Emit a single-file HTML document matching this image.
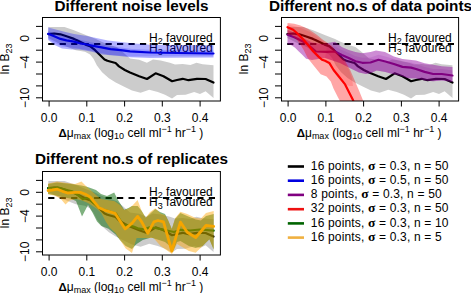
<!DOCTYPE html>
<html><head><meta charset="utf-8"><style>
html,body{margin:0;padding:0;background:#fff;}
svg{display:block;}
</style></head><body>
<svg width="471" height="293" viewBox="0 0 471 293" font-family="Liberation Sans, sans-serif" fill="#000">
<defs>
<clipPath id="c1"><rect x="42.5" y="17.5" width="177.9" height="83.5"/></clipPath>
<clipPath id="c2"><rect x="281.5" y="17.5" width="177.1" height="83.5"/></clipPath>
<clipPath id="c3"><rect x="42.5" y="171.5" width="177.9" height="83.5"/></clipPath>
</defs>
<rect width="471" height="293" fill="#fff"/>
<g clip-path="url(#c1)">
<polygon points="48.3,26.9 64.5,26.9 74.0,30.2 87.0,35.5 96.0,38.9 101.5,41.7 109.7,45.1 116.5,47.1 123.3,52.6 130.0,58.5 139.2,59.8 146.9,62.7 153.0,59.6 160.7,60.4 169.9,62.7 175.0,64.5 182.7,64.0 190.4,65.0 196.5,62.7 202.6,64.2 213.5,65.2 213.5,98.0 205.6,91.2 200.0,94.1 194.2,92.0 185.6,94.8 177.0,95.0 172.0,98.4 165.0,94.8 157.8,92.0 149.2,89.8 140.6,92.7 132.0,90.5 124.2,86.8 115.7,82.5 108.9,78.3 102.1,72.3 96.9,65.5 93.5,58.7 90.1,54.4 85.0,51.8 75.8,50.2 60.0,44.0 48.3,38.0" fill="#cccccc"/>
<polyline points="48.4,34.2 54.2,33.5 60.4,34.3 66.5,36.3 74.0,38.9 76.4,39.9 85.6,44.6 90.0,46.1 95.1,50.2 100.2,55.3 104.5,59.5 107.4,60.8 111.8,62.0 115.6,63.0 119.0,66.4 124.8,70.0 130.0,72.6 139.2,76.2 147.0,79.0 155.6,73.3 163.5,76.2 172.1,81.2 177.0,80.0 182.7,78.8 188.5,80.2 197.0,78.8 205.6,79.0 213.5,82.6" fill="none" stroke="#000" stroke-width="2.2" stroke-linejoin="round" stroke-linecap="round" />
<line x1="48.2" y1="44" x2="215" y2="44" stroke="#000" stroke-width="2" stroke-dasharray="6.2,5.27"/>
<text x="212.8" y="41.5" font-size="12" text-anchor="end">H<tspan font-size="9" dy="2.5">2</tspan><tspan dy="-2.5"> favoured</tspan></text>
<text x="212.8" y="52" font-size="12" text-anchor="end">H<tspan font-size="9" dy="2.5">3</tspan><tspan dy="-2.5"> favoured</tspan></text>
<polygon points="48.2,27.6 64.5,31.7 74.0,34.0 87.0,36.0 108.0,40.5 132.0,43.3 150.0,44.8 177.0,45.0 213.5,45.2 213.5,57.6 177.0,57.8 150.0,58.0 130.0,57.3 119.1,56.1 102.1,54.4 91.8,51.8 86.5,50.7 79.0,49.6 71.6,49.6 62.0,48.6 54.6,44.9 48.2,40.1" fill="#0000ff" fill-opacity="0.3"/>
<polygon points="48.2,31.0 60.0,35.5 74.0,38.5 90.0,42.0 110.0,46.0 132.0,49.0 150.0,49.8 177.0,50.0 213.5,50.5 213.5,56.3 177.0,56.3 132.0,56.5 110.0,55.0 90.0,50.5 75.0,48.0 62.0,46.5 54.6,43.0 48.2,39.0" fill="#0000ff" fill-opacity="0.18"/>
<polyline points="48.1,33.8 54.2,36.3 60.4,38.9 66.5,40.4 74.0,41.6 80.0,43.3 87.0,44.5 93.0,45.8 100.2,47.2 110.5,49.2 120.7,50.2 130.0,51.3 150.0,52.5 177.0,53.0 213.5,53.5" fill="none" stroke="#0000e0" stroke-width="2.2" stroke-linejoin="round" stroke-linecap="round" />
</g>
<rect x="42.5" y="17.5" width="177.9" height="83.5" fill="none" stroke="#000" stroke-width="1"/>
<line x1="49.1" y1="101.0" x2="49.1" y2="106.5" stroke="#000" stroke-width="1"/>
<text x="49.1" y="121.6" font-size="12" text-anchor="middle">0.0</text>
<line x1="86.8" y1="101.0" x2="86.8" y2="106.5" stroke="#000" stroke-width="1"/>
<text x="86.8" y="121.6" font-size="12" text-anchor="middle">0.1</text>
<line x1="124.6" y1="101.0" x2="124.6" y2="106.5" stroke="#000" stroke-width="1"/>
<text x="124.6" y="121.6" font-size="12" text-anchor="middle">0.2</text>
<line x1="162.3" y1="101.0" x2="162.3" y2="106.5" stroke="#000" stroke-width="1"/>
<text x="162.3" y="121.6" font-size="12" text-anchor="middle">0.3</text>
<line x1="200.1" y1="101.0" x2="200.1" y2="106.5" stroke="#000" stroke-width="1"/>
<text x="200.1" y="121.6" font-size="12" text-anchor="middle">0.4</text>
<line x1="36" y1="26.4" x2="42.5" y2="26.4" stroke="#000" stroke-width="1"/>
<line x1="36" y1="38.3" x2="42.5" y2="38.3" stroke="#000" stroke-width="1"/>
<line x1="36" y1="50.2" x2="42.5" y2="50.2" stroke="#000" stroke-width="1"/>
<line x1="36" y1="62.1" x2="42.5" y2="62.1" stroke="#000" stroke-width="1"/>
<line x1="36" y1="74.0" x2="42.5" y2="74.0" stroke="#000" stroke-width="1"/>
<line x1="36" y1="85.9" x2="42.5" y2="85.9" stroke="#000" stroke-width="1"/>
<line x1="36" y1="97.8" x2="42.5" y2="97.8" stroke="#000" stroke-width="1"/>
<text transform="translate(29,38.3) rotate(-90)" font-size="12" text-anchor="middle">0</text>
<text transform="translate(29,62.1) rotate(-90)" font-size="12" text-anchor="middle">−4</text>
<text transform="translate(29,97.8) rotate(-90)" font-size="12" text-anchor="middle">−10</text>
<text transform="translate(9,58.8) rotate(-90)" font-size="12" text-anchor="middle">ln B<tspan font-size="9" dy="2.5">23</tspan></text>
<text x="130.9" y="136.9" font-size="12" text-anchor="middle"><tspan font-size="11.5" font-weight="bold">Δ</tspan>μ<tspan font-size="9" dy="2">max</tspan><tspan dy="-2"> (log</tspan><tspan font-size="9" dy="2">10</tspan><tspan dy="-2"> cell ml</tspan><tspan font-size="9" dy="-4.5">−1</tspan><tspan dy="4.5"> hr</tspan><tspan font-size="9" dy="-4.5">−1</tspan><tspan dy="4.5"> )</tspan></text>
<text x="131.5" y="10.9" font-size="15.3" font-weight="bold" text-anchor="middle">Different noise levels</text>
<g clip-path="url(#c2)">
<polygon points="287.3,26.9 303.5,26.9 313.0,30.2 326.0,35.5 335.0,38.9 340.5,41.7 348.7,45.1 355.5,47.1 362.3,52.6 369.0,58.5 378.2,59.8 385.9,62.7 392.0,59.6 399.7,60.4 408.9,62.7 414.0,64.5 421.7,64.0 429.4,65.0 435.5,62.7 441.6,64.2 452.5,65.2 452.5,98.0 444.6,91.2 439.0,94.1 433.2,92.0 424.6,94.8 416.0,95.0 411.0,98.4 404.0,94.8 396.8,92.0 388.2,89.8 379.6,92.7 371.0,90.5 363.2,86.8 354.7,82.5 347.9,78.3 341.1,72.3 335.9,65.5 332.5,58.7 329.1,54.4 324.0,51.8 314.8,50.2 299.0,44.0 287.3,38.0" fill="#cccccc"/>
<polyline points="287.4,34.2 293.2,33.5 299.4,34.3 305.5,36.3 313.0,38.9 315.4,39.9 324.6,44.6 329.0,46.1 334.1,50.2 339.2,55.3 343.5,59.5 346.4,60.8 350.8,62.0 354.6,63.0 358.0,66.4 363.8,70.0 369.0,72.6 378.2,76.2 386.0,79.0 394.6,73.3 402.5,76.2 411.1,81.2 416.0,80.0 421.7,78.8 427.5,80.2 436.0,78.8 444.6,79.0 452.5,82.6" fill="none" stroke="#000" stroke-width="2.2" stroke-linejoin="round" stroke-linecap="round" />
<line x1="287.2" y1="44" x2="454" y2="44" stroke="#000" stroke-width="2" stroke-dasharray="6.2,5.27"/>
<text x="451.8" y="41.5" font-size="12" text-anchor="end">H<tspan font-size="9" dy="2.5">2</tspan><tspan dy="-2.5"> favoured</tspan></text>
<text x="451.8" y="52" font-size="12" text-anchor="end">H<tspan font-size="9" dy="2.5">3</tspan><tspan dy="-2.5"> favoured</tspan></text>
<polygon points="287.5,30.0 295.0,33.0 303.0,38.0 312.0,42.5 322.0,44.0 335.0,41.7 341.8,47.1 348.7,49.9 355.5,51.9 362.3,53.3 370.5,51.9 376.0,50.5 385.0,51.9 393.9,56.4 402.5,59.0 416.0,60.4 424.6,63.3 433.2,64.7 441.8,66.2 452.5,66.9 452.5,82.0 441.8,80.5 433.2,81.2 424.6,80.5 416.0,78.5 408.2,78.3 399.7,75.5 392.5,74.0 385.3,71.9 376.7,70.5 371.0,73.0 366.0,74.0 359.0,72.6 351.8,69.0 340.0,63.0 325.0,58.0 312.0,60.0 306.1,58.8 302.5,55.1 298.8,51.4 295.1,47.7 291.4,45.2 287.5,44.0" fill="rgb(144,0,160)" fill-opacity="0.45"/>
<polygon points="327.0,46.8 335.0,46.5 341.8,50.0 348.7,53.0 355.5,56.3 362.3,57.8 370.5,57.5 378.5,54.8 385.3,56.5 393.9,59.0 402.5,61.9 411.1,62.6 416.0,64.0 424.6,66.9 433.2,69.0 441.8,69.0 452.5,70.5 452.5,82.0 441.8,80.5 433.2,81.2 424.6,80.5 416.0,78.5 408.2,78.3 399.7,75.5 392.5,74.0 385.3,71.9 376.7,70.5 371.0,73.0 366.0,74.0 359.0,72.6 351.8,69.0 340.0,63.0 325.0,58.0" fill="rgb(144,0,160)" fill-opacity="0.14"/>
<polyline points="287.5,34.8 294.3,37.2 300.5,40.3 306.0,43.0 316.0,51.5 327.0,51.8 335.0,51.5 341.8,55.0 348.7,58.0 355.5,61.3 362.3,62.8 370.5,62.5 378.5,59.8 385.3,61.5 393.9,64.0 402.5,66.9 411.1,67.6 416.0,69.0 424.6,71.9 433.2,74.0 441.8,74.0 452.5,75.5" fill="none" stroke="#800080" stroke-width="2.2" stroke-linejoin="round" stroke-linecap="round" />
<polygon points="287.5,23.1 294.3,23.7 300.5,25.5 308.2,29.1 316.4,34.6 323.2,40.0 331.4,45.5 336.9,52.3 340.0,56.4 344.6,60.0 350.4,70.5 354.7,80.5 359.0,90.5 363.5,101.5 340.5,102.0 337.9,97.2 333.6,88.7 330.8,81.5 326.5,76.5 320.7,74.3 315.0,67.2 310.0,61.0 307.4,57.5 303.7,50.1 300.0,44.0 296.3,39.1 291.4,35.0 287.5,34.5" fill="#ff0000" fill-opacity="0.35"/>
<polygon points="287.5,24.5 300.0,27.5 310.0,32.0 320.0,39.0 330.0,46.0 338.0,55.0 344.0,62.0 349.0,70.0 352.0,78.0 353.0,86.0 350.0,86.0 345.0,85.0 340.0,78.0 333.0,68.0 325.0,61.0 315.0,55.0 305.0,45.0 296.0,36.0 287.5,32.0" fill="#ff0000" fill-opacity="0.15"/>
<polyline points="287.5,27.2 293.2,29.8 298.0,34.1 303.1,39.2 308.3,45.3 313.4,51.5 318.5,56.6 322.0,59.8 325.0,60.8 329.3,62.9 333.6,70.0 339.4,77.2 345.1,84.4 349.4,93.0 353.0,100.1 354.0,103.0" fill="none" stroke="#ff0000" stroke-width="2.2" stroke-linejoin="round" stroke-linecap="round" />
</g>
<rect x="281.5" y="17.5" width="177.1" height="83.5" fill="none" stroke="#000" stroke-width="1"/>
<line x1="288.1" y1="101.0" x2="288.1" y2="106.5" stroke="#000" stroke-width="1"/>
<text x="288.1" y="121.6" font-size="12" text-anchor="middle">0.0</text>
<line x1="325.9" y1="101.0" x2="325.9" y2="106.5" stroke="#000" stroke-width="1"/>
<text x="325.9" y="121.6" font-size="12" text-anchor="middle">0.1</text>
<line x1="363.6" y1="101.0" x2="363.6" y2="106.5" stroke="#000" stroke-width="1"/>
<text x="363.6" y="121.6" font-size="12" text-anchor="middle">0.2</text>
<line x1="401.4" y1="101.0" x2="401.4" y2="106.5" stroke="#000" stroke-width="1"/>
<text x="401.4" y="121.6" font-size="12" text-anchor="middle">0.3</text>
<line x1="439.1" y1="101.0" x2="439.1" y2="106.5" stroke="#000" stroke-width="1"/>
<text x="439.1" y="121.6" font-size="12" text-anchor="middle">0.4</text>
<line x1="275" y1="26.4" x2="281.5" y2="26.4" stroke="#000" stroke-width="1"/>
<line x1="275" y1="38.3" x2="281.5" y2="38.3" stroke="#000" stroke-width="1"/>
<line x1="275" y1="50.2" x2="281.5" y2="50.2" stroke="#000" stroke-width="1"/>
<line x1="275" y1="62.1" x2="281.5" y2="62.1" stroke="#000" stroke-width="1"/>
<line x1="275" y1="74.0" x2="281.5" y2="74.0" stroke="#000" stroke-width="1"/>
<line x1="275" y1="85.9" x2="281.5" y2="85.9" stroke="#000" stroke-width="1"/>
<line x1="275" y1="97.8" x2="281.5" y2="97.8" stroke="#000" stroke-width="1"/>
<text transform="translate(268,38.3) rotate(-90)" font-size="12" text-anchor="middle">0</text>
<text transform="translate(268,62.1) rotate(-90)" font-size="12" text-anchor="middle">−4</text>
<text transform="translate(268,97.8) rotate(-90)" font-size="12" text-anchor="middle">−10</text>
<text transform="translate(248,58.8) rotate(-90)" font-size="12" text-anchor="middle">ln B<tspan font-size="9" dy="2.5">23</tspan></text>
<text x="369.09999999999997" y="136.9" font-size="12" text-anchor="middle"><tspan font-size="11.5" font-weight="bold">Δ</tspan>μ<tspan font-size="9" dy="2">max</tspan><tspan dy="-2"> (log</tspan><tspan font-size="9" dy="2">10</tspan><tspan dy="-2"> cell ml</tspan><tspan font-size="9" dy="-4.5">−1</tspan><tspan dy="4.5"> hr</tspan><tspan font-size="9" dy="-4.5">−1</tspan><tspan dy="4.5"> )</tspan></text>
<text x="370.5" y="10.9" font-size="15.3" font-weight="bold" text-anchor="middle">Different no.s of data points</text>
<g clip-path="url(#c3)">
<polygon points="48.3,180.9 64.5,180.9 74.0,184.2 87.0,189.5 96.0,192.9 101.5,195.7 109.7,199.1 116.5,201.1 123.3,206.6 130.0,212.5 139.2,213.8 146.9,216.7 153.0,213.6 160.7,214.4 169.9,216.7 175.0,218.5 182.7,218.0 190.4,219.0 196.5,216.7 202.6,218.2 213.5,219.2 213.5,252.0 205.6,245.2 200.0,248.1 194.2,246.0 185.6,248.8 177.0,249.0 172.0,252.4 165.0,248.8 157.8,246.0 149.2,243.8 140.6,246.7 132.0,244.5 124.2,240.8 115.7,236.5 108.9,232.3 102.1,226.3 96.9,219.5 93.5,212.7 90.1,208.4 85.0,205.8 75.8,204.2 60.0,198.0 48.3,192.0" fill="#cccccc"/>
<polyline points="48.4,188.2 54.2,187.5 60.4,188.3 66.5,190.3 74.0,192.9 76.4,193.9 85.6,198.6 90.0,200.1 95.1,204.2 100.2,209.3 104.5,213.5 107.4,214.8 111.8,216.0 115.6,217.0 119.0,220.4 124.8,224.0 130.0,226.6 139.2,230.2 147.0,233.0 155.6,227.3 163.5,230.2 172.1,235.2 177.0,234.0 182.7,232.8 188.5,234.2 197.0,232.8 205.6,233.0 213.5,236.6" fill="none" stroke="#000" stroke-width="2.2" stroke-linejoin="round" stroke-linecap="round" />
<line x1="48.2" y1="198" x2="215" y2="198" stroke="#000" stroke-width="2" stroke-dasharray="6.2,5.27"/>
<text x="212.8" y="195.5" font-size="12" text-anchor="end">H<tspan font-size="9" dy="2.5">2</tspan><tspan dy="-2.5"> favoured</tspan></text>
<text x="212.8" y="206" font-size="12" text-anchor="end">H<tspan font-size="9" dy="2.5">3</tspan><tspan dy="-2.5"> favoured</tspan></text>
<polygon points="48.0,184.0 57.0,182.5 67.0,183.5 75.0,184.5 81.5,185.5 86.0,186.5 90.5,188.0 96.0,190.0 101.0,194.0 107.0,196.1 114.2,192.5 118.0,200.0 124.2,209.7 128.5,208.0 132.0,206.0 137.7,206.0 141.7,210.9 145.7,217.7 149.8,214.0 155.3,209.0 160.0,212.0 165.0,214.0 168.0,220.0 171.8,229.0 175.0,219.0 180.4,213.0 187.2,216.0 195.7,219.5 200.9,220.4 206.0,216.0 213.7,214.0 213.7,249.4 209.4,239.2 202.6,246.0 195.7,248.0 188.9,246.0 180.4,241.0 177.0,242.0 173.5,250.3 170.0,246.0 165.0,242.0 159.0,240.0 151.0,237.5 142.8,240.0 136.6,244.0 132.0,249.0 125.7,246.0 120.0,240.0 115.6,234.5 108.5,228.8 101.3,225.9 97.0,221.6 92.7,213.0 88.0,205.0 82.0,216.5 76.0,201.0 70.0,198.5 62.0,197.0 55.0,195.2 48.0,194.0" fill="#006400" fill-opacity="0.5"/>
<polyline points="48.1,188.2 52.2,188.0 57.4,187.4 62.5,188.7 67.6,190.2 72.0,191.3 76.0,193.7 82.8,199.1 88.3,197.7 93.7,203.2 100.6,208.7 107.4,210.7 116.0,213.5 123.5,225.5 128.0,225.3 133.5,226.6 138.9,228.7 144.4,229.4 149.8,227.3 155.3,228.0 162.1,229.4 168.0,230.7 174.0,232.0 180.4,229.8 190.0,230.5 200.0,229.5 213.7,230.6" fill="none" stroke="#006400" stroke-width="2.2" stroke-linejoin="round" stroke-linecap="round" />
<polygon points="48.0,183.6 57.0,181.5 67.0,183.0 75.0,184.0 81.5,181.4 86.0,186.0 90.5,190.0 96.0,195.0 101.0,199.0 107.0,200.0 114.2,201.0 120.0,205.0 124.2,210.0 128.5,208.5 132.0,206.0 137.6,200.0 141.7,210.9 145.7,217.7 149.8,212.3 155.3,208.2 160.8,213.7 164.9,215.0 168.0,220.0 171.8,229.0 175.2,218.0 180.4,211.8 187.2,214.0 195.7,218.0 200.9,218.5 206.0,213.0 213.7,211.0 213.7,249.4 209.4,239.2 202.6,246.0 195.7,252.8 188.9,251.1 180.4,246.0 177.0,244.0 172.0,254.0 167.8,251.0 160.6,246.0 153.5,238.0 146.3,238.0 136.6,238.0 132.0,253.0 125.7,248.5 120.0,240.0 115.6,233.0 110.0,228.0 106.0,222.0 101.3,213.0 97.0,209.0 92.7,206.0 88.0,203.0 82.0,200.5 76.0,199.0 69.6,200.5 65.5,204.6 60.4,198.4 54.3,195.4 48.0,194.3" fill="#ffa500" fill-opacity="0.45"/>
<polyline points="48.1,190.5 52.2,190.0 57.4,189.2 62.5,191.3 67.6,193.0 72.0,192.6 75.1,192.3 80.2,192.3 85.4,194.3 90.5,197.3 93.7,201.3 99.2,207.8 106.0,210.7 110.1,211.8 115.0,213.3 125.2,228.9 132.1,223.2 137.6,216.4 141.7,221.8 147.8,233.3 153.9,221.8 158.0,220.5 163.5,221.8 171.8,251.0 180.4,222.1 187.2,232.3 195.7,237.5 206.0,225.5 213.7,226.3" fill="none" stroke="#f5a500" stroke-width="2.8" stroke-linejoin="round" stroke-linecap="round" />
</g>
<rect x="42.5" y="171.5" width="177.9" height="83.5" fill="none" stroke="#000" stroke-width="1"/>
<line x1="49.1" y1="255.0" x2="49.1" y2="260.5" stroke="#000" stroke-width="1"/>
<text x="49.1" y="275.6" font-size="12" text-anchor="middle">0.0</text>
<line x1="86.8" y1="255.0" x2="86.8" y2="260.5" stroke="#000" stroke-width="1"/>
<text x="86.8" y="275.6" font-size="12" text-anchor="middle">0.1</text>
<line x1="124.6" y1="255.0" x2="124.6" y2="260.5" stroke="#000" stroke-width="1"/>
<text x="124.6" y="275.6" font-size="12" text-anchor="middle">0.2</text>
<line x1="162.3" y1="255.0" x2="162.3" y2="260.5" stroke="#000" stroke-width="1"/>
<text x="162.3" y="275.6" font-size="12" text-anchor="middle">0.3</text>
<line x1="200.1" y1="255.0" x2="200.1" y2="260.5" stroke="#000" stroke-width="1"/>
<text x="200.1" y="275.6" font-size="12" text-anchor="middle">0.4</text>
<line x1="36" y1="180.4" x2="42.5" y2="180.4" stroke="#000" stroke-width="1"/>
<line x1="36" y1="192.3" x2="42.5" y2="192.3" stroke="#000" stroke-width="1"/>
<line x1="36" y1="204.2" x2="42.5" y2="204.2" stroke="#000" stroke-width="1"/>
<line x1="36" y1="216.1" x2="42.5" y2="216.1" stroke="#000" stroke-width="1"/>
<line x1="36" y1="228.0" x2="42.5" y2="228.0" stroke="#000" stroke-width="1"/>
<line x1="36" y1="239.9" x2="42.5" y2="239.9" stroke="#000" stroke-width="1"/>
<line x1="36" y1="251.8" x2="42.5" y2="251.8" stroke="#000" stroke-width="1"/>
<text transform="translate(29,192.3) rotate(-90)" font-size="12" text-anchor="middle">0</text>
<text transform="translate(29,216.1) rotate(-90)" font-size="12" text-anchor="middle">−4</text>
<text transform="translate(29,251.8) rotate(-90)" font-size="12" text-anchor="middle">−10</text>
<text transform="translate(9,212.8) rotate(-90)" font-size="12" text-anchor="middle">ln B<tspan font-size="9" dy="2.5">23</tspan></text>
<text x="130.9" y="290.9" font-size="12" text-anchor="middle"><tspan font-size="11.5" font-weight="bold">Δ</tspan>μ<tspan font-size="9" dy="2">max</tspan><tspan dy="-2"> (log</tspan><tspan font-size="9" dy="2">10</tspan><tspan dy="-2"> cell ml</tspan><tspan font-size="9" dy="-4.5">−1</tspan><tspan dy="4.5"> hr</tspan><tspan font-size="9" dy="-4.5">−1</tspan><tspan dy="4.5"> )</tspan></text>
<text x="131.5" y="164.4" font-size="15.3" font-weight="bold" text-anchor="middle">Different no.s of replicates</text>
<line x1="287.8" y1="166.5" x2="304" y2="166.5" stroke="#000000" stroke-width="2.6"/>
<text x="310.8" y="169.7" font-size="12" letter-spacing="0.17">16 points, <tspan font-weight="bold" font-family="Liberation Serif, serif" font-size="13.5">σ</tspan> = 0.3, n = 50</text>
<line x1="287.8" y1="180.7" x2="304" y2="180.7" stroke="#0000e0" stroke-width="2.6"/>
<text x="310.8" y="183.9" font-size="12" letter-spacing="0.17">16 points, <tspan font-weight="bold" font-family="Liberation Serif, serif" font-size="13.5">σ</tspan> = 0.5, n = 50</text>
<line x1="287.8" y1="194.9" x2="304" y2="194.9" stroke="#800080" stroke-width="2.6"/>
<text x="310.8" y="198.1" font-size="12" letter-spacing="0.17">8 points, <tspan font-weight="bold" font-family="Liberation Serif, serif" font-size="13.5">σ</tspan> = 0.3, n = 50</text>
<line x1="287.8" y1="209.2" x2="304" y2="209.2" stroke="#ee1111" stroke-width="2.6"/>
<text x="310.8" y="212.4" font-size="12" letter-spacing="0.17">32 points, <tspan font-weight="bold" font-family="Liberation Serif, serif" font-size="13.5">σ</tspan> = 0.3, n = 50</text>
<line x1="287.8" y1="223.4" x2="304" y2="223.4" stroke="#006400" stroke-width="2.6"/>
<text x="310.8" y="226.6" font-size="12" letter-spacing="0.17">16 points, <tspan font-weight="bold" font-family="Liberation Serif, serif" font-size="13.5">σ</tspan> = 0.3, n = 10</text>
<line x1="287.8" y1="237.6" x2="304" y2="237.6" stroke="#f0b040" stroke-width="2.6"/>
<text x="310.8" y="240.8" font-size="12" letter-spacing="0.17">16 points, <tspan font-weight="bold" font-family="Liberation Serif, serif" font-size="13.5">σ</tspan> = 0.3, n = 5</text>
</svg>
</body></html>
